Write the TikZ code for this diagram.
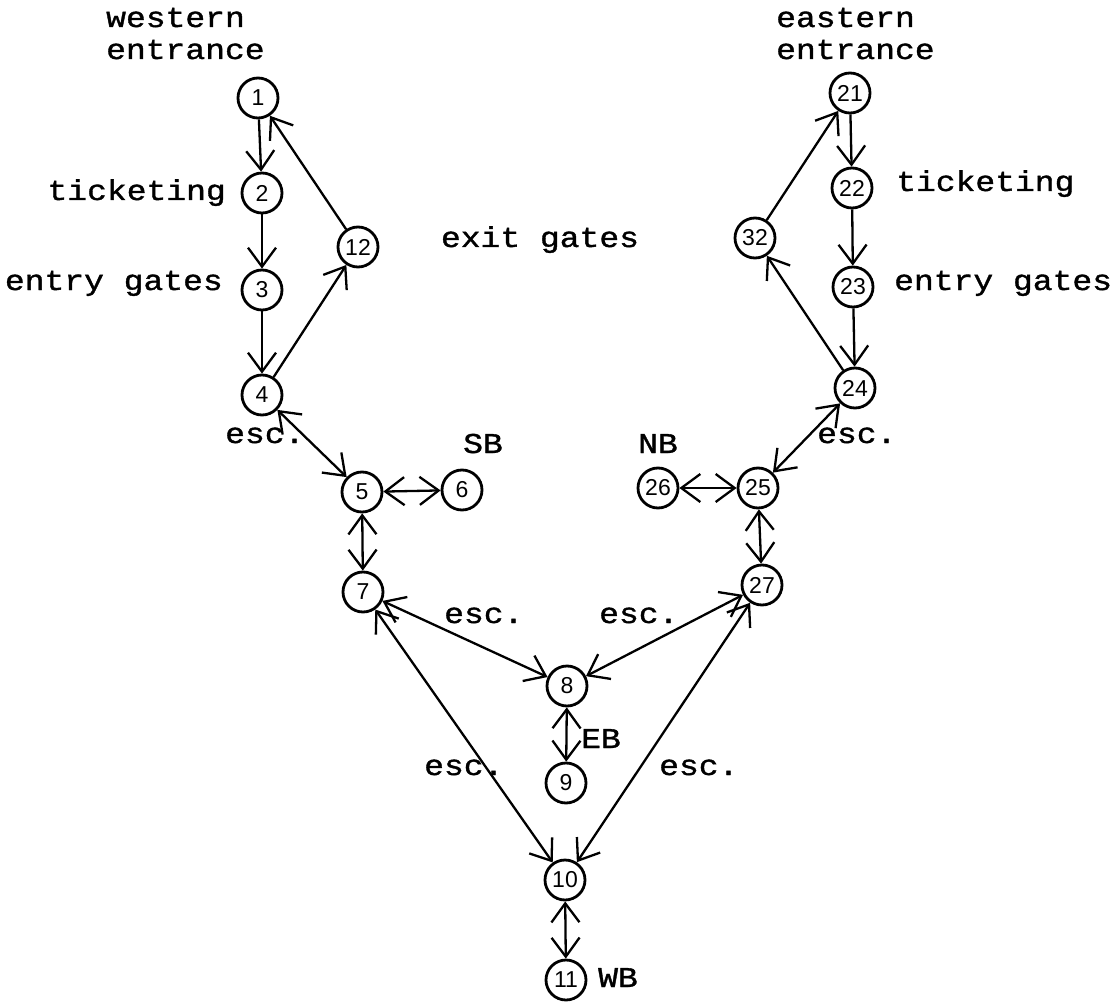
\documentclass[tikz,border=0pt]{standalone}
\usepackage{fontspec}
\usetikzlibrary{arrows.meta}
\newfontfamily\typefont[FakeStretch=1.15,FakeBold=1.2]{Liberation Mono}
\newfontfamily\handfont{Liberation Sans}

\begin{document}
\begin{tikzpicture}[x=1pt,y=-1pt,
  >={Straight Barb[length=19pt,width=28pt]},
  station/.style={circle,draw,line width=2.8pt,minimum size=40pt,inner sep=0pt,
    font=\handfont\fontsize{23}{23}\selectfont},
  typed/.style={inner sep=0pt,font=\typefont\fontsize{28.7}{32}\selectfont},
  link/.style={line width=2.3pt,->},
  both/.style={line width=2.3pt,<->}]
\useasboundingbox (0,0) rectangle (1119,1003);

% western side
\node[station] (n1)  at (258,98)  {1};
\node[station] (n2)  at (262,193) {2};
\node[station] (n3)  at (262,290) {3};
\node[station] (n4)  at (262,395) {4};
\node[station] (n12) at (358,247) {12};
\node[station] (n5)  at (362,492) {5};
\node[station] (n6)  at (462,490) {6};
\node[station] (n7)  at (363,592) {7};

% central part
\node[station] (n8)  at (567,686) {8};
\node[station] (n9)  at (566,783) {9};
\node[station] (n10) at (565,880) {10};
\node[station] (n11) at (566,980) {11};

% eastern side
\node[station] (n21) at (850,93)  {21};
\node[station] (n22) at (852,188) {22};
\node[station] (n23) at (853,287) {23};
\node[station] (n32) at (755,238) {32};
\node[station] (n24) at (855,388) {24};
\node[station] (n25) at (758,488) {25};
\node[station] (n26) at (658,488) {26};
\node[station] (n27) at (762,585) {27};

% one-way flows
\draw[link] (n1) -- (n2);
\draw[link] (n2) -- (n3);
\draw[link] (n3) -- (n4);
\draw[link] (n4) -- (n12);
\draw[link] (n12) -- (n1);
\draw[link] (n21) -- (n22);
\draw[link] (n22) -- (n23);
\draw[link] (n23) -- (n24);
\draw[link] (n24) -- (n32);
\draw[link] (n32) -- (n21);

% two-way flows
\draw[both] (n4) -- (n5);
\draw[both] (n5) -- (n6);
\draw[both] (n5) -- (n7);
\draw[both] (n7) -- (n8);
\draw[both] (n7) -- (n10);
\draw[both] (n8) -- (n9);
\draw[both] (n10) -- (n11);
\draw[both] (n24) -- (n25);
\draw[both] (n25) -- (n26);
\draw[both] (n25) -- (n27);
\draw[both] (n27) -- (n8);
\draw[both] (n27) -- (n10);

% text
\node[typed,anchor=base west] (tw1) at (106,27) {western};
\node[typed,anchor=base west] (tw2) at (106,59) {entrance};
\node[typed,anchor=base west] (te1) at (776,27) {eastern};
\node[typed,anchor=base west] (te2) at (776,59) {entrance};
\node[typed,anchor=base east] (tt1) at (226,200) {ticketing};
\node[typed,anchor=base east] (tg1) at (223,290) {entry gates};
\node[typed,anchor=base] (tx) at (540,247) {exit gates};
\node[typed,anchor=base west] (tt2) at (896,191) {ticketing};
\node[typed,anchor=base west] (tg2) at (894,290) {entry gates};
\node[typed,anchor=base west] (ea) at (225,443) {esc.};
\node[typed,anchor=base west] (sb) at (463,453) {SB};
\node[typed,anchor=base west] (eb) at (817,443) {esc.};
\node[typed,anchor=base west] (nb) at (638,453) {NB};
\node[typed,anchor=base west] (ec) at (444,623) {esc.};
\node[typed,anchor=base west] (ed) at (599,623) {esc.};
\node[typed,anchor=base west] (ee) at (424,775) {esc.};
\node[typed,anchor=base west] (ef) at (659,775) {esc.};
\node[typed,anchor=base west] (ebl) at (581,748) {EB};
\node[typed,anchor=base west] (wbl) at (598,987) {WB};
\end{tikzpicture}
\end{document}
